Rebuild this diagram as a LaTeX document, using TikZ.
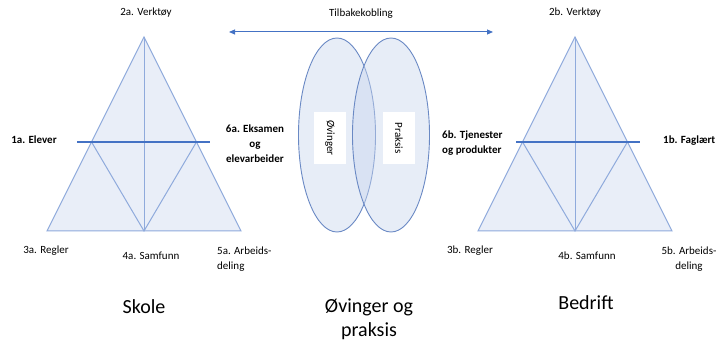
\documentclass[tikz,border=0pt]{standalone}
\usepackage{fontspec}
\setmainfont{Carlito}
\usetikzlibrary{arrows.meta,calc,shapes.geometric}
\definecolor{triline}{HTML}{8FAADC}
\definecolor{trifill}{HTML}{E9EEF8}
\definecolor{barblue}{HTML}{4472C4}
\definecolor{ovalline}{HTML}{6A89C4}
\definecolor{ovalfill}{HTML}{C9D6EE}

\begin{document}
\begin{tikzpicture}[x=1pt,y=-1pt,
   smalltext/.style={font=\fontsize{11}{15}\selectfont,inner sep=1pt},
   boldtext/.style={font=\fontsize{11}{15}\selectfont\bfseries,inner sep=1pt},
   bigtext/.style={font=\fontsize{20}{24}\selectfont,inner sep=1pt},
   oval/.style={ellipse,draw=ovalline,line width=0.9pt,fill=ovalfill,fill opacity=0.45,
      minimum width=77pt,minimum height=194pt,inner sep=0pt},
   tagbox/.style={fill=white,rotate=-90,minimum width=52pt,minimum height=32pt,
      inner sep=0pt,font=\fontsize{11}{13}\selectfont}]
\useasboundingbox (0,0) rectangle (716,344);

% the two triangles
\foreach \s/\cx/\bl/\br in {a/144/67/66,b/575/59/65} {
  \coordinate (top\s) at (\cx,37);
  \coordinate (left\s) at (\cx-97,231);
  \coordinate (right\s) at (\cx+97,231);
  \coordinate (mid\s) at (\cx,231);
  \coordinate (sl\s) at ($(top\s)!0.541!(left\s)$);
  \coordinate (sr\s) at ($(top\s)!0.541!(right\s)$);
  \coordinate (barl\s) at (\cx-\bl,142);
  \coordinate (barr\s) at (\cx+\br,142);
  \fill[trifill] (top\s) -- (left\s) -- (right\s) -- cycle;
  \draw[triline,line width=1pt] (top\s) -- (left\s) -- (right\s) -- cycle;
  \draw[triline,line width=1pt] (top\s) -- (mid\s);
  \draw[triline,line width=1pt] (sl\s) -- (mid\s) -- (sr\s);
  \draw[barblue,line width=2.4pt] (barl\s) -- (barr\s);
}

% Skole
\node[smalltext] (verktoya) at (146,13) {2a. Verktøy};
\node[boldtext] (elever) at (34,140) {1a. Elever};
\node[boldtext,align=center] (eksamen) at (255,144) {6a. Eksamen\\og\\elevarbeider};
\node[smalltext] (reglera) at (46,251) {3a. Regler};
\node[smalltext] (samfunna) at (151,256) {4a. Samfunn};
\node[smalltext,align=left,anchor=west] (arbeida) at (216,259) {5a. Arbeids-\\deling};
\node[bigtext] (skole) at (144,307) {Skole};

% Bedrift
\node[smalltext] (verktoyb) at (575,13) {2b. Verktøy};
\node[boldtext,align=left,anchor=west] (tjenester) at (441,143) {6b. Tjenester\\og produkter};
\node[boldtext,anchor=west] (faglaert) at (662,141) {1b. Faglært};
\node[smalltext] (reglerb) at (470,251) {3b. Regler};
\node[smalltext] (samfunnb) at (587,256) {4b. Samfunn};
\node[smalltext,align=center] (arbeidb) at (689,259) {5b. Arbeids-\\deling};
\node[bigtext] (bedrift) at (586,303) {Bedrift};

% Øvinger og praksis
\node[smalltext] (tilbake) at (361,14) {Tilbakekobling};
\coordinate (pilv) at (229,32);
\coordinate (pilh) at (493,32);
\draw[barblue,line width=1pt,{Triangle[length=6pt,width=5pt]}-{Triangle[length=6pt,width=5pt]}] (pilv) -- (pilh);
\node[oval] (ovalv) at (337,135) {};
\node[oval] (ovalh) at (391,135) {};
\node[tagbox] (ovtag) at (330,138) {Øvinger};
\node[tagbox] (prtag) at (399,138) {Praksis};
\node[bigtext,align=center] (ovpr) at (369,319) {Øvinger og\\praksis};
\end{tikzpicture}
\end{document}
